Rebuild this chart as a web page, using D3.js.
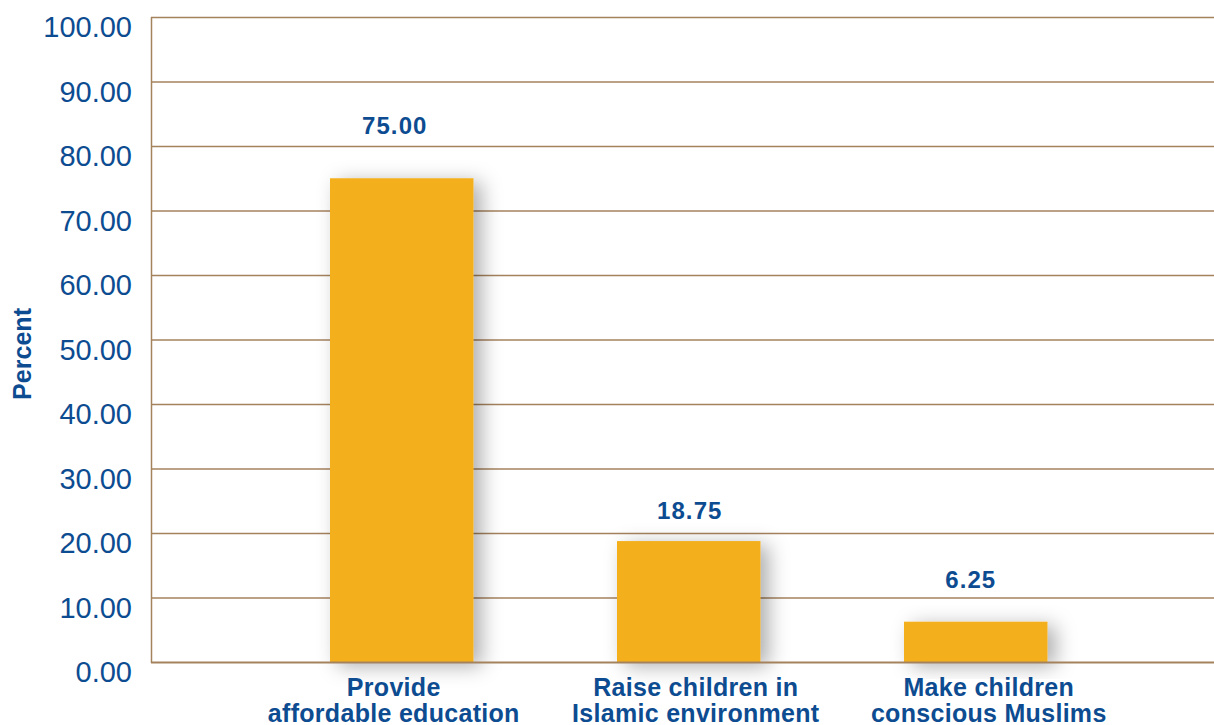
<!DOCTYPE html>
<html><head><meta charset="utf-8">
<script src="https://cdn.jsdelivr.net/npm/d3@7"></script>
<style>body{margin:0;background:#fff;}svg{display:block;}</style>
</head><body>
<script>
const categories = [["Provide","affordable education"],["Raise children in","Islamic environment"],["Make children","conscious Muslims"]];
const values = [75.00, 18.75, 6.25];
const yTicks = [0,10,20,30,40,50,60,70,80,90,100];
// label placement tweaks (pixels), kept apart from the data
const labelLift = [44, 22, 34];
const valueShift = [-7, 1, -5];
const catShift = [-8, 7, 13];

(function(){
const W = 1214, H = 725;
const pLeft = 151, pRight = 1214, pTop = 17, pBottom = 662;
const textColor = "#0D4C91", barColor = "#F4B01E", gridColor = "#A4825C";

const svg = d3.select("body").append("svg").attr("width", W).attr("height", H);
const defs = svg.append("defs");
const f = defs.append("filter").attr("id","sh").attr("x","-40%").attr("y","-40%").attr("width","180%").attr("height","180%");
f.append("feDropShadow").attr("dx",8).attr("dy",4).attr("stdDeviation",10).attr("flood-color","#000").attr("flood-opacity",0.32);

const y = d3.scaleLinear().domain([0,100]).range([pBottom, pTop]);
const x = d3.scaleBand().domain(d3.range(values.length)).range([186.5, 1191]).paddingInner(0.5).paddingOuter(0.5);

svg.append("g").selectAll("line").data(yTicks.filter(d=>d>0)).join("line")
  .attr("x1", pLeft).attr("x2", pRight).attr("y1", d=>y(d)+0.5).attr("y2", d=>y(d)+0.5)
  .attr("stroke", gridColor).attr("stroke-width", 1.3);

svg.append("g").selectAll("rect").data(values).join("rect")
  .attr("x", (d,i)=>x(i)).attr("width", x.bandwidth())
  .attr("y", d=>y(d)).attr("height", d=>pBottom - y(d))
  .attr("fill", barColor).attr("filter","url(#sh)");

svg.append("line").attr("x1",pLeft+0.5).attr("x2",pLeft+0.5).attr("y1",pTop).attr("y2",pBottom+1).attr("stroke",gridColor).attr("stroke-width",1.5);
svg.append("line").attr("x1",pLeft).attr("x2",pRight).attr("y1",pBottom+0.5).attr("y2",pBottom+0.5).attr("stroke",gridColor).attr("stroke-width",2);

const yAxis = d3.axisLeft(y).tickValues(yTicks).tickFormat(d3.format(".2f")).tickSize(0).tickPadding(0);
const ga = svg.append("g").attr("transform",`translate(132,0)`).call(yAxis);
ga.select(".domain").remove();
ga.selectAll("text").attr("fill",textColor).attr("font-family","Liberation Sans, Arial, sans-serif")
  .attr("font-size",29).attr("dy","0.68em");

svg.append("g").selectAll("text").data(values).join("text")
  .attr("x",(d,i)=>x(i)+x.bandwidth()/2 + valueShift[i]).attr("y",(d,i)=>y(d)-labelLift[i])
  .attr("text-anchor","middle").attr("fill",textColor)
  .attr("font-family","Liberation Sans, Arial, sans-serif").attr("font-weight","bold").attr("font-size",24)
  .attr("letter-spacing","1.1px")
  .text(d=>d3.format(".2f")(d));

const cg = svg.append("g").selectAll("text").data(categories).join("text")
  .attr("x",(d,i)=>x(i)+x.bandwidth()/2 + catShift[i]).attr("y",696)
  .attr("text-anchor","middle").attr("fill",textColor)
  .attr("font-family","Liberation Sans, Arial, sans-serif").attr("font-weight","bold").attr("font-size",25)
  .attr("letter-spacing","0.3px");
cg.selectAll("tspan").data(d=>d).join("tspan")
  .attr("x",function(){return this.parentNode.getAttribute("x");})
  .attr("dy",(d,i)=>i===0?0:25.5).text(d=>d);

svg.append("text").attr("transform","translate(31,354) rotate(-90)")
  .attr("text-anchor","middle").attr("fill",textColor)
  .attr("font-family","Liberation Sans, Arial, sans-serif").attr("font-weight","bold").attr("font-size",25)
  .attr("textLength",92).attr("lengthAdjust","spacingAndGlyphs")
  .text("Percent");
})();
</script>
</body></html>
